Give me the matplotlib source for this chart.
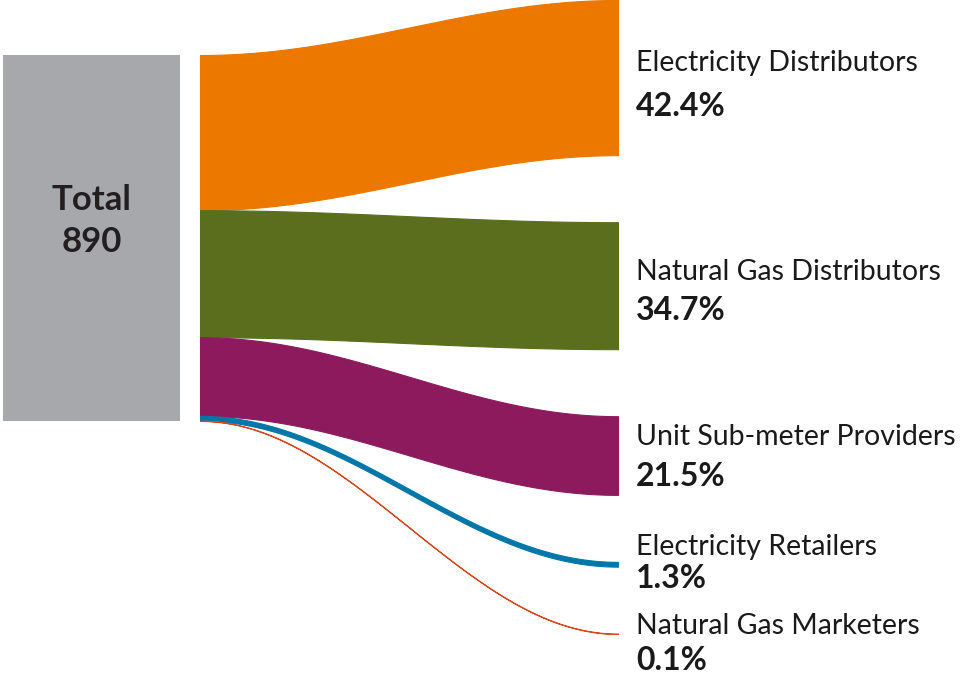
import matplotlib.pyplot as plt
import numpy as np

# data
total = 890
names = ["Electricity Distributors", "Natural Gas Distributors",
         "Unit Sub-meter Providers", "Electricity Retailers",
         "Natural Gas Marketers"]
shares = [42.4, 34.7, 21.5, 1.3, 0.1]
colors = ["#EC7800", "#5A6E1E", "#8E1A5E", "#0077A8", "#D9481C"]

plt.rcParams['font.family'] = ['Lato', 'DejaVu Sans']

fig = plt.figure(figsize=(9.65, 6.77), dpi=100)
ax = fig.add_axes([0, 0, 1, 1])
ax.set_xlim(0, 965)
ax.set_ylim(677, 0)
ax.axis('off')

# layout (pixels)
box_x0, box_x1 = 3, 180
box_top, box_h = 55, 366
flow_x0, flow_x1 = 200, 618
gap = 67
scale = box_h / 100.0
name_y = [63, 272, 437, 547, 626]
pct_y = [107, 311, 477, 579, 661]

ax.add_patch(plt.Rectangle((box_x0, box_top), box_x1 - box_x0, box_h,
                           color="#A7A8AC", lw=0))
ax.text((box_x0 + box_x1) / 2, 200, "Total", ha='center', va='center',
        fontsize=25, fontweight='bold', color='#231F20')
ax.text((box_x0 + box_x1) / 2, 242, str(total), ha='center', va='center',
        fontsize=25, fontweight='bold', color='#231F20')

t = np.linspace(0, 1, 200)
xs = flow_x0 + (flow_x1 - flow_x0) * t
ease = (1 - np.cos(np.pi * t)) / 2

left_y = box_top
right_y = 0
for i, (n, s, c) in enumerate(zip(names, shares, colors)):
    h = s * scale
    top = left_y + (right_y - left_y) * ease
    bot = top + h
    ax.fill_between(xs, top, bot, color=c, lw=0.8, edgecolor=c)
    ax.text(636, name_y[i], n, ha='left', va='center', fontsize=20.5,
            color='#1A1A1A')
    ax.text(636, pct_y[i], f"{s}%", ha='left', va='center', fontsize=23,
            fontweight='bold', color='#1A1A1A')
    left_y += h
    right_y += h + gap

fig.savefig("out.png", dpi=100)
